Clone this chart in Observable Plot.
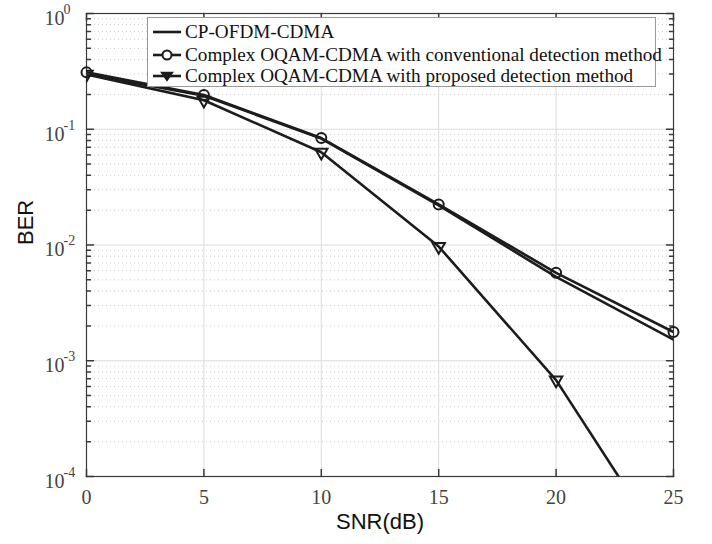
<!DOCTYPE html>
<html>
<head>
<meta charset="utf-8">
<script src="https://cdn.jsdelivr.net/npm/d3@7"></script>
<script src="https://cdn.jsdelivr.net/npm/@observablehq/plot@0.6"></script>
<style>
  body { margin: 0; background: #fff; }
  #wrap { position: relative; width: 712px; height: 544px; }
  #legend { position: absolute; left: 147px; top: 17px; width: 509px; height: 70px;
    border: 1px solid #9a9a9a; background: #fff; box-sizing: border-box;
    font-family: "Liberation Serif", "Times New Roman", serif; font-size: 19.2px; color: #111; }
  .row { position: absolute; left: 4px; height: 22px; display: flex; align-items: center; white-space: nowrap; }
  .row svg { margin-right: 3px; }
</style>
</head>
<body>
<div id="wrap"></div>
<script>
const snr = [0, 5, 10, 15, 20, 25];
const berCP = [0.300, 0.195, 0.083, 0.0220, 0.00530, 0.00152];
const berConv = [0.310, 0.198, 0.084, 0.0224, 0.00575, 0.00177];
const berProp = [0.298, 0.178, 0.0633, 0.0097, 0.00068, 0.0000185];
const seriesNames = [
  "CP-OFDM-CDMA",
  "Complex OQAM-CDMA with conventional detection method",
  "Complex OQAM-CDMA with proposed detection method"
];
const xTicks = [0, 5, 10, 15, 20, 25];
const yExponents = [-4, -3, -2, -1, 0];
const xLabel = "SNR(dB)";
const yLabel = "BER";

const majorY = yExponents.map(e => Math.pow(10, e));
const minorY = [];
for (const e of yExponents.slice(0, -1)) for (let k = 2; k <= 9; k++) minorY.push(k * Math.pow(10, e));

const rows = (ys) => snr.map((x, i) => ({x, y: ys[i]}));
const cp = rows(berCP), conv = rows(berConv), prop = rows(berProp);

const ink = "#1c1c1c";
const axisInk = "#3a3a3a";
const serif = "Liberation Serif, Times New Roman, serif";
const sans = "Liberation Sans, Arial, sans-serif";
const tickShape = {draw(context, l) { context.moveTo(0, 0); context.lineTo(0, -l); }};

const chart = Plot.plot({
  width: 712, height: 544,
  marginLeft: 86, marginRight: 39, marginTop: 13, marginBottom: 68,
  style: {background: "#fff"},
  x: {domain: [0, 25], axis: null},
  y: {type: "log", domain: [1e-4, 1], axis: null},
  marks: [
    Plot.ruleY(minorY, {stroke: "#cfcfcf", strokeDasharray: "1,3"}),
    Plot.ruleY(majorY, {stroke: "#dcdcdc"}),
    Plot.ruleX(xTicks, {stroke: "#dcdcdc"}),
    Plot.line(cp, {x: "x", y: "y", stroke: ink, strokeWidth: 2.6, clip: true}),
    Plot.line(conv, {x: "x", y: "y", stroke: ink, strokeWidth: 2.6, clip: true}),
    Plot.line(prop, {x: "x", y: "y", stroke: ink, strokeWidth: 2.6, clip: true}),
    Plot.frame({stroke: axisInk, strokeWidth: 1.2}),
    // inward tick marks
    Plot.vector(majorY, {x: () => 0, y: d => d, rotate: 90, length: 7, anchor: "start", shape: tickShape, stroke: axisInk}),
    Plot.vector(majorY, {x: () => 25, y: d => d, rotate: -90, length: 7, anchor: "start", shape: tickShape, stroke: axisInk}),
    Plot.vector(minorY, {x: () => 0, y: d => d, rotate: 90, length: 4, anchor: "start", shape: tickShape, stroke: axisInk}),
    Plot.vector(minorY, {x: () => 25, y: d => d, rotate: -90, length: 4, anchor: "start", shape: tickShape, stroke: axisInk}),
    Plot.vector(xTicks, {x: d => d, y: () => 1e-4, rotate: 0, length: 7, anchor: "start", shape: tickShape, stroke: axisInk}),
    Plot.vector(xTicks, {x: d => d, y: () => 1, rotate: 180, length: 7, anchor: "start", shape: tickShape, stroke: axisInk}),
    Plot.dot(conv, {x: "x", y: "y", r: 5, stroke: ink, strokeWidth: 2, fill: "none"}),
    Plot.dot(prop, {x: "x", y: "y", symbol: "triangle", rotate: 180, r: 4.6, stroke: ink, strokeWidth: 2, fill: "none", clip: true}),
    // tick labels
    Plot.text(xTicks, {x: d => d, y: () => 1e-4, text: d => String(d), dy: 21, fontSize: 20, fontFamily: serif, fill: "#444"}),
    Plot.text(yExponents, {x: () => 0, y: d => Math.pow(10, d), text: () => "10", textAnchor: "end", dx: -22, dy: 5, fontSize: 20, fontFamily: serif, fill: "#444"}),
    Plot.text(yExponents, {x: () => 0, y: d => Math.pow(10, d), text: d => String(d), textAnchor: "start", dx: -23, dy: -4, fontSize: 14, fontFamily: serif, fill: "#444"}),
    // axis labels
    Plot.text([xLabel], {frameAnchor: "bottom", dy: 52, text: d => d, fontSize: 22, fontFamily: sans, fill: "#111"}),
    Plot.text([yLabel], {frameAnchor: "left", dx: -61, rotate: -90, text: d => d, fontSize: 22, fontFamily: sans, fill: "#111"})
  ]
});

const wrap = document.getElementById("wrap");
wrap.appendChild(chart);

const legend = document.createElement("div");
legend.id = "legend";
const markers = ["none", "circle", "triangle"];
const rowTops = [3, 26, 47];
seriesNames.forEach((name, i) => {
  const row = document.createElement("div");
  row.className = "row";
  row.style.top = rowTops[i] + "px";
  let m = "";
  if (markers[i] === "circle") m = `<circle cx="15" cy="11" r="4.5" fill="white" stroke="${ink}" stroke-width="2"/>`;
  if (markers[i] === "triangle") m = `<path d="M9.5,7.5 L20.5,7.5 L15,15.5 Z" fill="${ink}" stroke="${ink}" stroke-width="1.5"/>`;
  row.innerHTML = `<svg width="30" height="22"><line x1="1" y1="11" x2="29" y2="11" stroke="${ink}" stroke-width="2.6"/>${m}</svg><span>${name}</span>`;
  legend.appendChild(row);
});
wrap.appendChild(legend);
</script>
</body>
</html>
